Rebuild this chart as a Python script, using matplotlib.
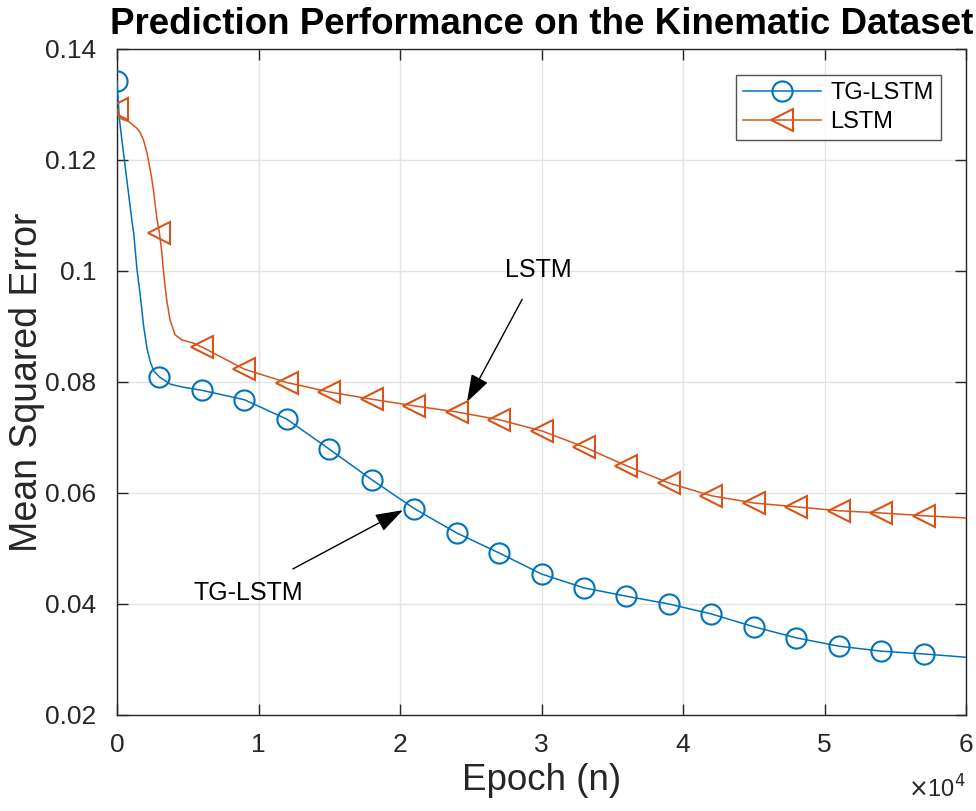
import matplotlib
matplotlib.use('Agg')
import matplotlib.pyplot as plt

# marker positions (every 3000 epochs)
epochs = [0, 3000, 6000, 9000, 12000, 15000, 18000, 21000, 24000, 27000,
          30000, 33000, 36000, 39000, 42000, 45000, 48000, 51000, 54000, 57000]
tg_lstm_mse = [0.1342, 0.0809, 0.0785, 0.0768, 0.0733, 0.0679, 0.0624, 0.0572,
               0.0528, 0.0492, 0.0454, 0.0429, 0.0414, 0.0400, 0.0382, 0.0359,
               0.0339, 0.0324, 0.0315, 0.0310]
lstm_mse = [0.1292, 0.1068, 0.0863, 0.0823, 0.0799, 0.0782, 0.0769, 0.0757,
            0.0746, 0.0732, 0.0712, 0.0683, 0.0649, 0.0618, 0.0595, 0.0582,
            0.0575, 0.0568, 0.0564, 0.0559]

# extra points (steep start and the end at 6e4)
tg_early_x = [163, 353, 587, 827, 1060, 1180, 1413, 1625, 1884, 2120, 2355,
              2590, 3770, 4600]
tg_early_y = [0.1275, 0.1234, 0.1186, 0.1137, 0.1089, 0.1068, 0.1002, 0.0960,
              0.0900, 0.0860, 0.0836, 0.0820, 0.0796, 0.0791]
lstm_early_x = [233, 827, 1413, 1625, 1884, 2095, 2240, 2450, 2590, 2686, 2830,
                3157, 3320, 3510, 3745, 4100, 4570, 5390]
lstm_early_y = [0.1275, 0.1269, 0.1257, 0.1250, 0.1235, 0.1215, 0.1197, 0.1167,
                0.1143, 0.1121, 0.1093, 0.1035, 0.0990, 0.0948, 0.0912, 0.0885,
                0.0876, 0.0870]
end_epoch = 60000
tg_end = 0.0304
lstm_end = 0.0555

x_ticks = [0, 10000, 20000, 30000, 40000, 50000, 60000]
x_ticklabels = ['0', '1', '2', '3', '4', '5', '6']
y_ticks = [0.02, 0.04, 0.06, 0.08, 0.1, 0.12, 0.14]
y_ticklabels = ['0.02', '0.04', '0.06', '0.08', '0.1', '0.12', '0.14']

blue = '#0072BD'
orange = '#D95319'
axcol = '#262626'

plt.rcParams['font.family'] = ['Liberation Sans', 'DejaVu Sans']


def merge(ax_, ay_, bx_, by_, ex, ey):
    pts = sorted(list(zip(ax_, ay_)) + list(zip(bx_, by_)) + [(ex, ey)])
    return [p[0] for p in pts], [p[1] for p in pts]


tg_cx, tg_cy = merge(epochs, tg_lstm_mse, tg_early_x, tg_early_y, end_epoch, tg_end)
ls_cx, ls_cy = merge(epochs, lstm_mse, lstm_early_x, lstm_early_y, end_epoch, lstm_end)

fig = plt.figure(figsize=(9.76, 8.11), dpi=100)
ax = fig.add_axes([0.1199, 0.1184, 0.8699, 0.8212])

# curves
ax.plot(tg_cx, tg_cy, color=blue, lw=1.1, zorder=3)
ax.plot(ls_cx, ls_cy, color=orange, lw=1.1, zorder=3)
# markers
ax.plot(epochs, tg_lstm_mse, ls='none', marker='o', ms=14.5, mfc='none',
        mec=blue, mew=1.5, zorder=4)
ax.plot(epochs, lstm_mse, ls='none', marker='<', ms=16, mfc='none',
        mec=orange, mew=1.5, zorder=4)

# legend proxies
h1, = ax.plot([], [], color=blue, lw=1.1, marker='o', ms=14.5, mfc='none', mew=1.5)
h2, = ax.plot([], [], color=orange, lw=1.1, marker='<', ms=16, mfc='none', mew=1.5)
leg = ax.legend([h1, h2], ['TG-LSTM', 'LSTM'], loc='upper right',
                bbox_to_anchor=(0.9705, 0.961), fontsize=17, frameon=True,
                fancybox=False, edgecolor=axcol, handlelength=3.3,
                borderpad=0.3, labelspacing=0.3, handletextpad=0.4,
                borderaxespad=0)
leg.get_frame().set_linewidth(1.0)

ax.set_xlim(0, 60000)
ax.set_ylim(0.02, 0.14)
ax.set_xticks(x_ticks)
ax.set_xticklabels(x_ticklabels)
ax.set_yticks(y_ticks)
ax.set_yticklabels(y_ticklabels)
ax.grid(True, color='#e3e3e3', lw=1.0)
ax.set_axisbelow(True)
ax.tick_params(direction='in', length=8, width=1, colors=axcol, labelsize=19,
               top=True, right=True)
ax.tick_params(axis='y', pad=15)
ax.tick_params(axis='x', pad=13)
for s in ax.spines.values():
    s.set_color(axcol)
    s.set_linewidth(1.0)

ax.set_xlabel('Epoch (n)', fontsize=26.5, color=axcol, labelpad=4)
ax.set_ylabel('Mean Squared Error', fontsize=27, color=axcol)
ax.yaxis.set_label_coords(-0.085, 0.5)
ax.set_title('Prediction Performance on the Kinematic Dataset', fontsize=26.5,
             fontweight='bold', pad=11)
fig.text(966 / 976, 1 - 798 / 811, r'$\times$10$^4$', ha='right',
         va='baseline', fontsize=17, color=axcol)

# arrows
arrow = dict(arrowstyle='-|>,head_length=0.95,head_width=0.32',
             color='k', lw=1, shrinkB=0)
ax.annotate('LSTM', xy=(24730, 0.0764), xytext=(29750, 0.1002),
            ha='center', va='center', fontsize=18,
            arrowprops=dict(arrow, shrinkA=12))
ax.annotate('TG-LSTM', xy=(20200, 0.0569), xytext=(9260, 0.0420),
            ha='center', va='center', fontsize=18,
            arrowprops=dict(arrow, shrinkA=14))

fig.savefig('out.png', dpi=100)
